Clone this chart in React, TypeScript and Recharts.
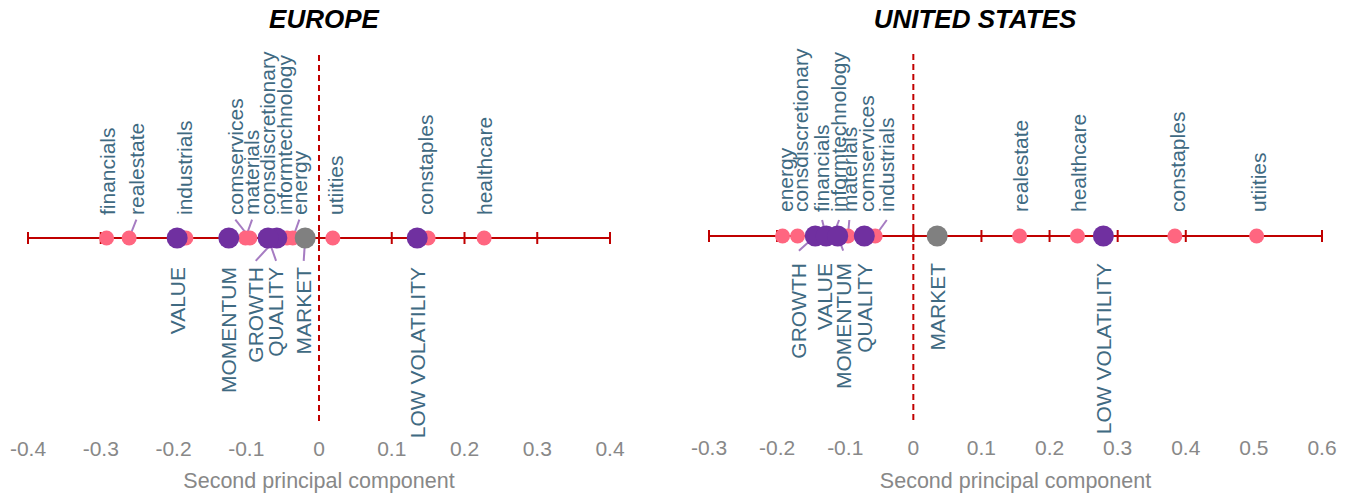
import React from "react";
import { ScatterChart, Scatter, XAxis, YAxis, ReferenceLine } from "recharts";

const FONT = "'Liberation Sans', Arial, sans-serif";
const PINK = "#FF6680";
const PURPLE = "#7030A0";
const GREY = "#808080";
const RED = "#C00000";
const LABEL = "#3F6A82";
const LEADER = "#A67CC2";

// Europe
const euTicks = [-0.4, -0.3, -0.2, -0.1, 0, 0.1, 0.2, 0.3, 0.4];
const euSectorNames = ["financials", "realestate", "industrials", "comservices", "materials", "consdiscretionary", "informtechnology", "energy", "utiities", "constaples", "healthcare"];
const euSectorValues = [-0.292, -0.261, -0.183, -0.095, -0.101, -0.067, -0.044, -0.036, 0.019, 0.15, 0.227];
const euFactorNames = ["VALUE", "MOMENTUM", "GROWTH", "QUALITY", "MARKET", "LOW VOLATILITY"];
const euFactorValues = [-0.195, -0.124, -0.058, -0.07, -0.019, 0.135];
// where the repelled labels ended up (x units) and which got a leader segment
const euSectorLabelAt = [-0.29, -0.251, -0.184, -0.115, -0.092, -0.07, -0.047, -0.027, 0.023, 0.146, 0.228];
const euFactorLabelAt = [-0.194, -0.124, -0.087, -0.059, -0.021, 0.136];
const euSectorLeaders = ["realestate", "comservices", "materials", "energy"];
const euFactorLeaders = ["GROWTH", "QUALITY", "MARKET"];

// United States
const usTicks = [-0.3, -0.2, -0.1, 0, 0.1, 0.2, 0.3, 0.4, 0.5, 0.6];
const usSectorNames = ["energy", "consdiscretionary", "financials", "informtechnology", "materials", "comservices", "industrials", "realestate", "healthcare", "constaples", "utiities"];
const usSectorValues = [-0.192, -0.17, -0.128, -0.118, -0.096, -0.07, -0.056, 0.156, 0.241, 0.384, 0.504];
const usFactorNames = ["GROWTH", "VALUE", "MOMENTUM", "QUALITY", "MARKET", "LOW VOLATILITY"];
const usFactorValues = [-0.144, -0.128, -0.111, -0.072, 0.035, 0.279];
const usSectorLabelAt = [-0.188, -0.165, -0.134, -0.109, -0.094, -0.069, -0.039, 0.158, 0.242, 0.388, 0.507];
const usFactorLabelAt = [-0.168, -0.13, -0.103, -0.072, 0.036, 0.28];
const usSectorLeaders = ["financials", "informtechnology", "materials", "industrials"];
const usFactorLeaders = ["GROWTH", "MOMENTUM"];

const fmt = (v: number) => String(Math.round(v * 10) / 10);

function Panel(props: any) {
  const { left, width, margin, ticks, sectorNames, sectorValues, factorNames, factorValues,
    sectorLabelAt, factorLabelAt, sectorLeaders, factorLeaders, upDy, downDy, leaderUp, leaderDown } = props;

  const sectors = sectorNames.map((n: string, i: number) => ({ name: n, x: sectorValues[i], y: 0, lx: sectorLabelAt[i] }));
  const factors = factorNames.map((n: string, i: number) => ({ name: n, x: factorValues[i], y: 0, lx: factorLabelAt[i] }));
  const ends = [{ x: ticks[0], y: 0 }, { x: ticks[ticks.length - 1], y: 0 }];
  const tickPts = ticks.map((t: number) => ({ x: t, y: 0 }));

  return (
    <div style={{ position: "absolute", left, top: 0 }}>
      <ScatterChart width={width} height={495} margin={margin}>
        <XAxis
          type="number"
          dataKey="x"
          domain={[ticks[0], ticks[ticks.length - 1]]}
          ticks={ticks}
          axisLine={false}
          tickLine={false}
          tickSize={0}
          tickMargin={0}
          height={495 - 421 + (margin.top > 53 ? 0 : 1)}
          interval={0}
          tick={(p: any) => (
            <text x={p.x} y={p.y + 35} textAnchor="middle" fontSize={21} fill="#888888" fontFamily={FONT}>
              {fmt(p.payload.value)}
            </text>
          )}
          label={{ value: "Second principal component", position: "insideBottom", offset: 7, fill: "#888888", fontSize: 21.5, fontFamily: FONT }}
        />
        <YAxis type="number" dataKey="y" domain={[-1, 1]} hide />
        <ReferenceLine x={0} stroke={RED} strokeWidth={2} strokeDasharray="6 4" />
        <Scatter data={ends} line={{ stroke: RED, strokeWidth: 2 }} shape={() => <g />} isAnimationActive={false} />
        <Scatter
          data={tickPts}
          isAnimationActive={false}
          shape={(p: any) => <line x1={p.cx} x2={p.cx} y1={p.cy - 6} y2={p.cy + 6} stroke={RED} strokeWidth={2} />}
        />
        <Scatter
          data={sectors}
          isAnimationActive={false}
          shape={(p: any) => <circle cx={p.cx} cy={p.cy} r={7.5} fill={PINK} />}
        />
        <Scatter
          data={factors}
          isAnimationActive={false}
          shape={(p: any) => <circle cx={p.cx} cy={p.cy} r={10.5} fill={p.payload.name === "MARKET" ? GREY : PURPLE} />}
        />
        {sectors.filter((s: any) => sectorLeaders.includes(s.name)).map((s: any) => (
          <ReferenceLine key={"ls" + s.name} segment={[{ x: s.x, y: 0 }, { x: s.lx, y: leaderUp }]} stroke={LEADER} strokeWidth={2} />
        ))}
        {factors.filter((s: any) => factorLeaders.includes(s.name)).map((s: any) => (
          <ReferenceLine key={"lf" + s.name} segment={[{ x: s.x, y: 0 }, { x: s.lx, y: leaderDown }]} stroke={LEADER} strokeWidth={2} />
        ))}
        <Scatter
          data={sectors.map((s: any) => ({ ...s, x: s.lx }))}
          isAnimationActive={false}
          shape={(p: any) => {
            const y = p.cy + upDy;
            return (
              <text x={p.cx} y={y} dy="0.35em" transform={`rotate(-90 ${p.cx} ${y})`} textAnchor="start" fontSize={21} fill={LABEL} fontFamily={FONT}>
                {p.payload.name}
              </text>
            );
          }}
        />
        <Scatter
          data={factors.map((s: any) => ({ ...s, x: s.lx }))}
          isAnimationActive={false}
          shape={(p: any) => {
            const y = p.cy + downDy;
            return (
              <text x={p.cx} y={y} dy="0.35em" transform={`rotate(-90 ${p.cx} ${y})`} textAnchor="end" fontSize={21} fill={LABEL} fontFamily={FONT}>
                {p.payload.name}
              </text>
            );
          }}
        />
      </ScatterChart>
    </div>
  );
}

export default function App() {
  return (
    <div style={{ position: "absolute", left: 0, top: 0, width: 1349, height: 495, background: "#fff", fontFamily: FONT }}>
      <svg width={1349} height={45} style={{ position: "absolute", left: 0, top: 0 }}>
        <text x={324} y={28} textAnchor="middle" fontSize={26} fontWeight="bold" fontStyle="italic" fontFamily={FONT} fill="#000">EUROPE</text>
        <text x={975} y={28} textAnchor="middle" fontSize={26} fontWeight="bold" fontStyle="italic" fontFamily={FONT} fill="#000">UNITED STATES</text>
      </svg>
      <Panel
        left={0}
        width={670}
        margin={{ top: 55, right: 60, bottom: 0, left: 28 }}
        ticks={euTicks}
        sectorNames={euSectorNames}
        sectorValues={euSectorValues}
        factorNames={euFactorNames}
        factorValues={euFactorValues}
        sectorLabelAt={euSectorLabelAt}
        factorLabelAt={euFactorLabelAt}
        sectorLeaders={euSectorLeaders}
        factorLeaders={euFactorLeaders}
        upDy={-23}
        downDy={29}
        leaderUp={0.1}
        leaderDown={-0.125}
      />
      <Panel
        left={680}
        width={669}
        margin={{ top: 52, right: 27, bottom: 0, left: 29 }}
        ticks={usTicks}
        sectorNames={usSectorNames}
        sectorValues={usSectorValues}
        factorNames={usFactorNames}
        factorValues={usFactorValues}
        sectorLabelAt={usSectorLabelAt}
        factorLabelAt={usFactorLabelAt}
        sectorLeaders={usSectorLeaders}
        factorLeaders={usFactorLeaders}
        upDy={-24}
        downDy={27}
        leaderUp={0.087}
        leaderDown={-0.08}
      />
    </div>
  );
}
